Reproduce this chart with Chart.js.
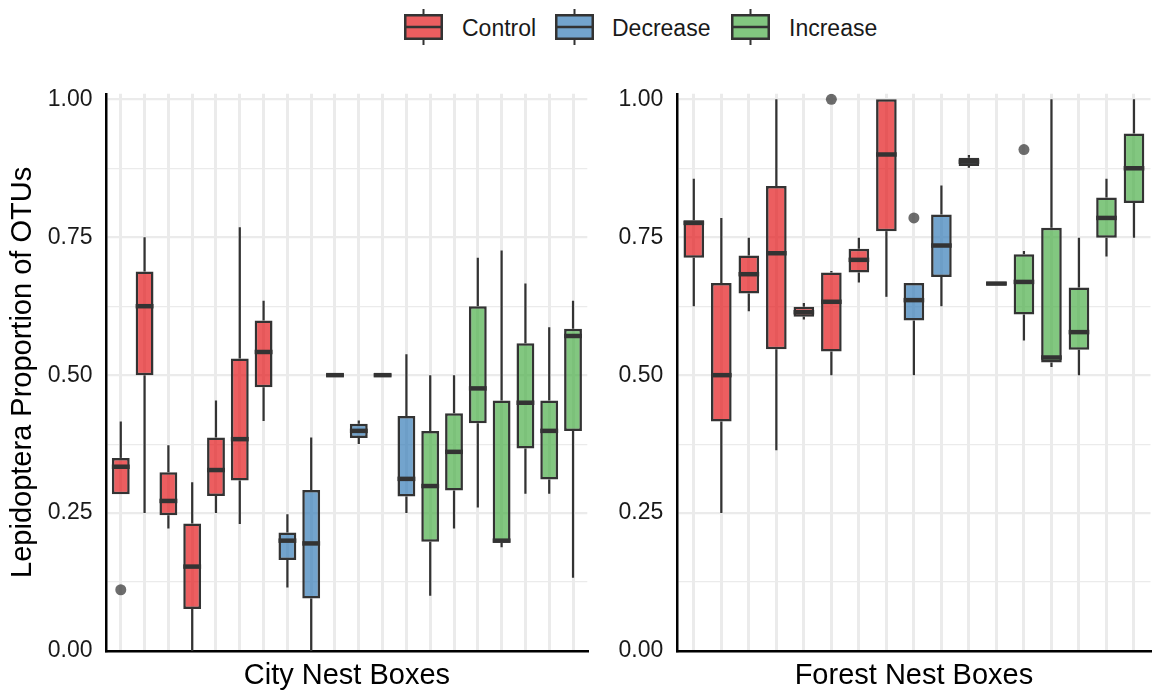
<!DOCTYPE html>
<html>
<head>
<meta charset="utf-8">
<script src="https://cdn.jsdelivr.net/npm/chart.js@4.4.1/dist/chart.umd.min.js"></script>
<style>
  body { margin: 0; background: #fff; font-family: "Liberation Sans", Arial, sans-serif; }
  #wrap { position: relative; width: 1156px; height: 693px; overflow: hidden; }
  .panel { position: absolute; top: 0; }
  .key { position: absolute; top: 7px; }
  .lab { position: absolute; top: 14px; height: 28px; line-height: 28px; font-size: 23px; color: #1a1a1a; white-space: nowrap; }
</style>
</head>
<body>
<div id="wrap">
  <canvas class="key" id="keyC" width="41" height="40" style="left:403px"></canvas>
  <div class="lab" style="left:462px">Control</div>
  <canvas class="key" id="keyD" width="41" height="40" style="left:554px"></canvas>
  <div class="lab" style="left:612px">Decrease</div>
  <canvas class="key" id="keyI" width="41" height="40" style="left:730px"></canvas>
  <div class="lab" style="left:789px">Increase</div>
  <div class="panel" style="left:0;width:600px;height:693px"><canvas id="cityChart" width="600" height="693"></canvas></div>
  <div class="panel" style="left:600px;width:556px;height:693px"><canvas id="forestChart" width="556" height="693"></canvas></div>
</div>
<script>
/**************************************************
 DATA
**************************************************/
const groups = ["Control", "Decrease", "Increase"];
const groupFill = {
  Control:  "rgba(228,26,28,0.7)",
  Decrease: "rgba(55,126,184,0.7)",
  Increase: "rgba(77,175,74,0.7)"
};
const yMajorTicks = [0, 0.25, 0.5, 0.75, 1];

// City nest boxes (20 boxes, left to right)
const cityGroup = ["Control","Control","Control","Control","Control","Control","Control",
                   "Decrease","Decrease","Decrease","Decrease","Decrease","Decrease",
                   "Increase","Increase","Increase","Increase","Increase","Increase","Increase"];
const cityLow  = [0.284, 0.250, 0.222, 0.000, 0.250, 0.230, 0.417, 0.115, 0.000, 0.500, 0.375, 0.500, 0.250, 0.100, 0.222, 0.260, 0.188, 0.285, 0.285, 0.133];
const cityQ1   = [0.284, 0.500, 0.246, 0.076, 0.281, 0.309, 0.478, 0.165, 0.095, 0.497, 0.386, 0.497, 0.280, 0.198, 0.291, 0.413, 0.196, 0.367, 0.311, 0.399];
const cityMed  = [0.334, 0.625, 0.272, 0.153, 0.328, 0.384, 0.542, 0.200, 0.195, 0.500, 0.399, 0.500, 0.312, 0.299, 0.361, 0.476, 0.200, 0.450, 0.399, 0.571];
const cityQ3   = [0.350, 0.688, 0.324, 0.231, 0.387, 0.530, 0.599, 0.215, 0.292, 0.503, 0.412, 0.503, 0.426, 0.399, 0.431, 0.625, 0.454, 0.558, 0.454, 0.584];
const cityHigh = [0.416, 0.750, 0.373, 0.306, 0.454, 0.768, 0.635, 0.248, 0.387, 0.500, 0.418, 0.500, 0.538, 0.500, 0.500, 0.713, 0.726, 0.666, 0.587, 0.635];
const cityOutX = [0];
const cityOutY = [0.111];

// Forest nest boxes (17 boxes, left to right)
const forestGroup = ["Control","Control","Control","Control","Control","Control","Control","Control",
                     "Decrease","Decrease","Decrease","Decrease",
                     "Increase","Increase","Increase","Increase","Increase"];
const forestLow  = [0.625, 0.250, 0.616, 0.364, 0.601, 0.500, 0.668, 0.642, 0.500, 0.625, 0.876, 0.663, 0.563, 0.515, 0.500, 0.715, 0.749];
const forestQ1   = [0.713, 0.416, 0.648, 0.547, 0.606, 0.543, 0.686, 0.761, 0.599, 0.678, 0.879, 0.663, 0.610, 0.523, 0.546, 0.749, 0.812];
const forestMed  = [0.776, 0.500, 0.683, 0.721, 0.614, 0.633, 0.709, 0.900, 0.636, 0.735, 0.887, 0.666, 0.669, 0.532, 0.578, 0.785, 0.875];
const forestQ3   = [0.781, 0.667, 0.717, 0.843, 0.624, 0.686, 0.729, 1.000, 0.667, 0.791, 0.894, 0.669, 0.719, 0.767, 0.659, 0.822, 0.938];
const forestHigh = [0.856, 0.785, 0.749, 1.000, 0.631, 0.689, 0.749, 1.000, 0.667, 0.844, 0.899, 0.669, 0.725, 1.000, 0.749, 0.856, 1.000];
const forestOutX = [5, 8, 12];
const forestOutY = [1.000, 0.785, 0.909];

/**************************************************
 BOX PLOT HELPERS
**************************************************/
function boxDatasets(grp, lo, q1, med, q3, hi, outX, outY) {
  const sets = groups.map(g => {
    const data = [], stats = [];
    grp.forEach((gg, i) => {
      if (gg !== g) return;
      data.push({x: i, y: [q1[i], q3[i]]});
      stats.push({lo: lo[i], q1: q1[i], med: med[i], q3: q3[i], hi: hi[i]});
    });
    return {
      type: "bar", label: g, data, stats,
      backgroundColor: groupFill[g], borderColor: "#333333", borderWidth: 2.5,
      borderSkipped: false, grouped: false, barPercentage: 0.75, categoryPercentage: 1
    };
  });
  sets.push({
    type: "scatter", label: "outliers",
    data: outX.map((x, i) => ({x, y: outY[i]})),
    pointRadius: 5.5, pointBackgroundColor: "rgba(60,60,60,0.75)", pointBorderWidth: 0
  });
  return sets;
}

// whiskers behind boxes, medians on top, all through the y scale
const boxWhiskers = {
  id: "boxWhiskers",
  beforeDatasetsDraw(chart) {
    const ctx = chart.ctx, y = chart.scales.y;
    ctx.save();
    ctx.strokeStyle = "#333333"; ctx.lineWidth = 2.2;
    chart.data.datasets.forEach((ds, di) => {
      if (!ds.stats) return;
      chart.getDatasetMeta(di).data.forEach((el, j) => {
        const s = ds.stats[j];
        ctx.beginPath();
        ctx.moveTo(el.x, y.getPixelForValue(s.hi)); ctx.lineTo(el.x, y.getPixelForValue(s.q3));
        ctx.moveTo(el.x, y.getPixelForValue(s.q1)); ctx.lineTo(el.x, y.getPixelForValue(s.lo));
        ctx.stroke();
      });
    });
    ctx.restore();
  },
  afterDatasetsDraw(chart) {
    const ctx = chart.ctx, y = chart.scales.y;
    ctx.save();
    ctx.strokeStyle = "#333333"; ctx.lineWidth = 4.5;
    chart.data.datasets.forEach((ds, di) => {
      if (!ds.stats) return;
      chart.getDatasetMeta(di).data.forEach((el, j) => {
        const py = y.getPixelForValue(ds.stats[j].med);
        ctx.beginPath();
        ctx.moveTo(el.x - el.width / 2, py); ctx.lineTo(el.x + el.width / 2, py);
        ctx.stroke();
      });
    });
    ctx.restore();
  }
};

function isMajor(v) {
  return yMajorTicks.some(t => Math.abs(t - v) < 1e-6);
}

function makePanel(canvasId, n, datasets, xTitle, yWidth, padRight, showYTitle) {
  return new Chart(document.getElementById(canvasId), {
    type: "bar",
    data: {datasets},
    plugins: [boxWhiskers],
    options: {
      responsive: false, animation: false, devicePixelRatio: 1,
      layout: {padding: {top: 93.8, right: padRight, bottom: 0, left: 0}},
      plugins: {legend: {display: false}, tooltip: {enabled: false}},
      scales: {
        x: {
          type: "linear", min: -0.6, max: n - 0.4, offset: false,
          ticks: {display: false, stepSize: 1, includeBounds: false},
          grid: {offset: false, color: "#ebebeb", lineWidth: 3, drawTicks: false},
          border: {display: true, color: "#000", width: 2.5},
          title: {display: true, text: xTitle, color: "#000",
                  font: {family: "Liberation Sans", size: 29}, padding: {top: 0, bottom: 0}},
          afterFit(scale) { scale.height = 42; }
        },
        y: {
          type: "linear", min: 0, max: 1.01,
          ticks: {stepSize: 0.125, includeBounds: false, padding: 14, color: "#1a1a1a",
                  font: {family: "Liberation Sans", size: 23},
                  callback: v => isMajor(v) ? v.toFixed(2) : ""},
          grid: {color: "#ebebeb", drawTicks: false,
                 lineWidth: c => (c.tick && isMajor(c.tick.value)) ? 2.2 : 1.2},
          border: {display: true, color: "#000", width: 2.5},
          title: {display: showYTitle, text: "Lepidoptera Proportion of OTUs", color: "#000",
                  font: {family: "Liberation Sans", size: 29}, padding: {top: 6, bottom: 0}},
          afterFit(scale) { scale.width = yWidth; }
        }
      }
    }
  });
}

makePanel("cityChart", cityGroup.length,
  boxDatasets(cityGroup, cityLow, cityQ1, cityMed, cityQ3, cityHigh, cityOutX, cityOutY),
  "City Nest Boxes", 106.5, 12.7, true);

makePanel("forestChart", forestGroup.length,
  boxDatasets(forestGroup, forestLow, forestQ1, forestMed, forestQ3, forestHigh, forestOutX, forestOutY),
  "Forest Nest Boxes", 77.3, 0, false);

/**************************************************
 LEGEND KEYS
**************************************************/
function drawKey(id, fill) {
  const ctx = document.getElementById(id).getContext("2d");
  ctx.strokeStyle = "#333333";
  ctx.lineWidth = 2;
  ctx.beginPath();
  ctx.moveTo(20.5, 2); ctx.lineTo(20.5, 8);
  ctx.moveTo(20.5, 32); ctx.lineTo(20.5, 38);
  ctx.stroke();
  ctx.fillStyle = fill;
  ctx.fillRect(2, 8, 37, 24);
  ctx.lineWidth = 2.5;
  ctx.strokeRect(2.25, 8.25, 36.5, 23.5);
  ctx.beginPath(); ctx.moveTo(2, 20); ctx.lineTo(39, 20); ctx.stroke();
}
drawKey("keyC", groupFill.Control);
drawKey("keyD", groupFill.Decrease);
drawKey("keyI", groupFill.Increase);
</script>
</body>
</html>
